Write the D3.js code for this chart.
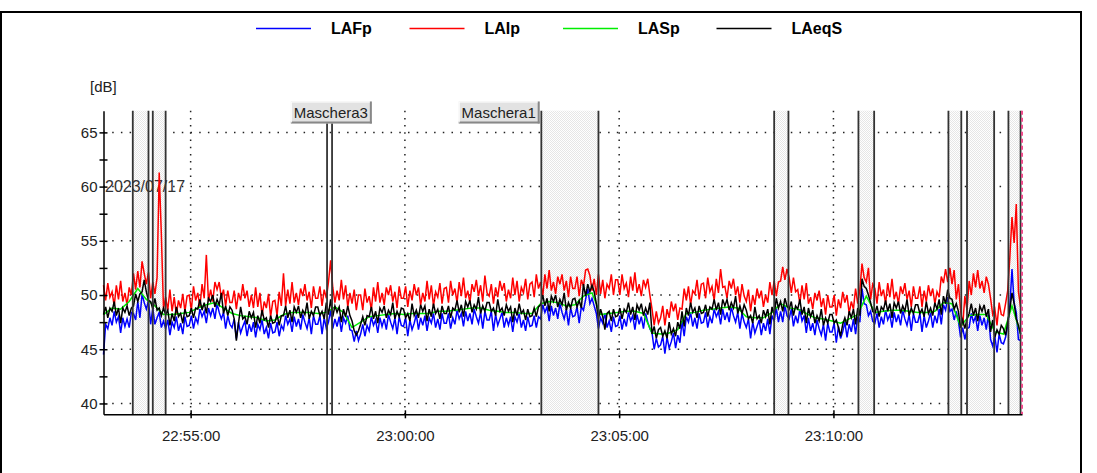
<!DOCTYPE html>
<html lang="it">
<head>
<meta charset="UTF-8">
<title>LAFp LAIp LASp LAeqS</title>
<script src="https://d3js.org/d3.v7.min.js"></script>
<style>
    body {
        margin: 0;
        background: #fff;
        font-family: Arial, "Liberation Sans", sans-serif;
    }
    svg { display: block; }
    .axis path, .axis line { stroke: #000; stroke-width: 1.5; }
    .axis text { font-family: Arial, "Liberation Sans", sans-serif; font-size: 15px; fill: #222; }
    .grid { stroke: #222; stroke-width: 1.5; fill: none; }
    .legend text { font-size: 16px; font-weight: bold; fill: #000; }
    .series { fill: none; stroke-width: 1.5; }
</style>
</head>
<body>
<svg width="1097" height="473"></svg>
<script>
    // time base of the recording
    const startTime = "22:52:58";
    const endTime = "23:14:24";
    const stepSec = 3;       // LAFp, LAIp, LAeqS sampling
    const stepSecSlow = 12;  // LASp sampling

    // LAFp [dB]
    const lafp = [
        44.5, 47.3, 46.9, 47.9, 47.2, 48.5, 47.5, 48.0, 46.5, 47.9, 47.1, 47.8, 47.0, 48.4, 48.3, 47.7, 49.4, 47.9, 50.1, 49.3,
        48.7, 49.5, 47.3, 48.8, 47.3, 47.9, 48.4, 47.0, 47.6, 46.9, 47.7, 46.3, 47.5, 47.0, 48.0, 46.7, 47.4, 46.4, 48.0, 47.1,
        47.2, 48.1, 46.9, 47.9, 47.4, 48.7, 48.0, 48.5, 47.4, 48.8, 48.1, 48.8, 47.8, 49.2, 48.4, 47.8, 48.4, 46.9, 48.1, 47.3,
        47.0, 47.8, 46.0, 47.5, 46.5, 47.1, 47.6, 46.2, 47.3, 46.6, 47.5, 46.1, 47.3, 46.8, 47.7, 46.4, 47.0, 46.0, 47.4, 46.5,
        46.6, 47.5, 46.2, 47.2, 46.8, 48.1, 47.3, 47.8, 46.6, 48.0, 47.1, 47.8, 46.8, 48.2, 47.5, 46.9, 47.9, 46.4, 48.1, 47.3,
        47.3, 48.1, 46.4, 47.9, 46.9, 47.5, 48.6, 46.9, 47.8, 47.1, 48.0, 46.6, 47.9, 47.4, 48.1, 46.8, 46.7, 45.7, 46.7, 45.8,
        46.4, 47.3, 46.2, 47.2, 46.7, 48.0, 47.2, 47.7, 46.5, 47.9, 47.1, 47.8, 46.8, 48.2, 47.5, 46.9, 47.9, 46.4, 48.0, 47.2,
        47.1, 47.9, 46.2, 47.7, 46.8, 47.4, 48.2, 46.8, 47.9, 47.2, 48.1, 46.7, 47.9, 47.4, 48.3, 47.0, 47.8, 46.8, 48.3, 47.4,
        47.4, 48.3, 46.9, 47.9, 47.3, 48.6, 47.8, 48.3, 47.1, 48.5, 47.6, 48.3, 47.3, 48.7, 48.0, 47.4, 48.4, 46.9, 48.5, 47.7,
        47.7, 48.5, 46.7, 48.2, 47.2, 47.8, 48.4, 47.0, 47.9, 47.2, 48.0, 46.6, 48.0, 47.5, 48.3, 47.0, 47.7, 46.7, 48.0, 47.1,
        47.2, 48.1, 47.0, 48.0, 47.8, 49.1, 48.4, 48.9, 47.6, 49.0, 48.1, 48.8, 47.8, 49.2, 48.4, 47.8, 48.7, 47.2, 48.8, 48.0,
        48.1, 48.9, 47.4, 48.9, 48.6, 49.6, 50.6, 49.2, 49.7, 49.0, 48.3, 46.9, 47.9, 47.4, 48.3, 47.0, 47.6, 46.6, 48.0, 47.1,
        47.2, 48.1, 46.8, 47.8, 47.1, 48.4, 47.6, 48.1, 46.8, 48.2, 47.3, 48.0, 46.9, 48.3, 47.5, 46.9, 46.5, 45.0, 46.0, 45.2,
        45.4, 46.2, 44.6, 46.1, 45.1, 45.7, 46.5, 45.1, 46.3, 45.6, 47.6, 46.2, 48.0, 47.5, 48.4, 47.1, 47.9, 46.9, 48.3, 47.4,
        47.5, 48.4, 47.0, 48.0, 47.4, 48.7, 48.0, 48.5, 47.3, 48.7, 47.7, 48.4, 47.5, 48.9, 48.1, 47.5, 48.4, 46.9, 48.3, 47.5,
        47.0, 47.8, 46.0, 47.5, 46.5, 47.1, 47.7, 46.3, 47.4, 46.7, 47.8, 46.4, 48.1, 47.6, 48.8, 47.5, 48.5, 47.5, 49.0, 48.1,
        47.8, 48.7, 47.1, 48.1, 47.4, 48.7, 47.6, 48.1, 46.5, 47.9, 46.7, 47.4, 46.3, 47.7, 46.9, 46.3, 47.3, 45.8, 47.4, 46.6,
        46.6, 47.4, 45.6, 47.1, 46.0, 46.6, 47.5, 46.1, 47.3, 46.6, 47.8, 46.4, 48.0, 47.5, 50.6, 49.2, 49.1, 48.1, 48.5, 47.6,
        47.4, 48.3, 47.0, 48.0, 47.3, 48.6, 47.7, 48.2, 47.0, 48.4, 47.5, 48.2, 47.2, 48.6, 47.8, 47.2, 48.2, 46.7, 48.3, 47.5,
        47.5, 48.3, 46.6, 48.1, 47.0, 47.6, 48.4, 47.0, 48.1, 47.4, 48.7, 47.3, 49.1, 48.6, 49.8, 48.5, 48.7, 47.7, 48.5, 47.6,
        46.1, 47.0, 45.9, 46.9, 47.0, 48.3, 47.5, 48.0, 46.7, 48.1, 47.2, 47.9, 46.8, 48.2, 45.9, 45.3, 46.2, 44.7, 46.4, 45.6,
        45.5, 46.1, 47.2, 49.0, 52.4, 49.3, 48.4, 45.9, 45.8
    ];

    // LAIp [dB]
    const laip = [
        50.9, 49.5, 51.1, 49.8, 50.3, 49.0, 50.9, 49.6, 51.3, 49.4, 50.2, 49.1, 50.7, 50.0, 52.0, 50.5, 52.2, 50.7, 53.1, 52.0,
        51.0, 52.1, 49.7, 51.2, 50.1, 51.6, 61.3, 55.6, 48.7, 49.8, 48.6, 50.5, 48.5, 49.8, 48.2, 49.5, 48.8, 50.1, 48.5, 49.9,
        50.0, 48.6, 50.8, 49.5, 50.2, 48.9, 51.0, 49.7, 53.7, 49.4, 50.5, 49.4, 51.2, 50.5, 51.2, 49.7, 50.5, 49.0, 50.4, 49.3,
        49.3, 50.4, 48.7, 50.2, 49.5, 51.0, 49.7, 50.4, 48.9, 50.0, 48.8, 50.7, 48.9, 50.2, 48.1, 49.4, 48.8, 50.1, 48.0, 49.4,
        49.5, 48.1, 50.3, 49.0, 52.0, 49.0, 50.5, 49.2, 51.2, 49.3, 50.2, 49.1, 50.6, 49.9, 51.0, 49.5, 50.3, 48.8, 50.8, 49.7,
        49.7, 50.8, 49.0, 50.5, 49.7, 51.2, 53.2, 50.7, 49.3, 50.4, 49.5, 51.4, 49.6, 50.9, 48.9, 50.2, 49.2, 50.5, 48.6, 50.0,
        50.0, 48.6, 50.6, 49.3, 49.9, 48.6, 50.7, 49.4, 51.2, 49.3, 50.2, 49.1, 50.7, 50.0, 50.9, 49.4, 50.3, 48.8, 50.8, 49.7,
        49.7, 50.8, 48.9, 50.4, 49.5, 51.0, 50.0, 50.7, 49.1, 50.2, 49.4, 51.3, 49.6, 50.9, 49.0, 50.3, 49.8, 51.1, 49.2, 50.6,
        50.7, 49.3, 51.3, 50.0, 50.6, 49.3, 51.2, 49.9, 51.6, 49.7, 50.4, 49.3, 51.0, 50.3, 51.4, 49.9, 50.9, 49.4, 51.8, 50.2,
        49.9, 51.0, 49.2, 50.7, 49.8, 51.3, 50.4, 51.1, 49.4, 50.5, 49.7, 51.6, 50.0, 51.3, 49.4, 50.7, 50.2, 51.5, 49.6, 51.0,
        51.2, 49.8, 51.9, 50.6, 51.2, 49.9, 51.9, 50.6, 52.3, 50.4, 51.2, 50.1, 51.7, 51.0, 51.9, 50.4, 51.3, 49.8, 51.7, 50.6,
        50.6, 51.7, 49.9, 51.4, 50.8, 52.3, 52.4, 51.8, 50.4, 51.5, 50.0, 51.9, 50.1, 51.4, 49.7, 51.0, 50.6, 51.9, 50.0, 51.4,
        51.4, 50.0, 51.9, 50.6, 51.1, 49.8, 51.7, 50.4, 52.1, 50.2, 51.0, 49.9, 51.4, 50.7, 51.5, 50.0, 48.7, 47.2, 48.5, 47.4,
        47.9, 49.0, 47.2, 48.7, 47.9, 49.4, 48.5, 49.2, 47.7, 48.8, 48.7, 50.6, 49.5, 50.8, 49.1, 50.4, 50.1, 51.4, 49.6, 51.0,
        51.1, 49.7, 51.6, 50.3, 50.8, 49.5, 51.5, 50.2, 52.4, 50.7, 50.8, 49.7, 51.3, 50.6, 51.5, 50.0, 50.8, 49.3, 51.0, 49.9,
        49.4, 50.5, 48.5, 50.0, 49.1, 50.6, 49.7, 50.4, 48.9, 50.0, 49.3, 51.2, 50.0, 51.3, 49.9, 51.2, 51.3, 52.6, 51.4, 52.4,
        51.6, 50.2, 51.6, 50.3, 50.5, 49.2, 50.9, 49.6, 51.1, 49.2, 49.8, 48.7, 50.2, 49.5, 50.4, 48.9, 49.7, 48.2, 50.0, 48.9,
        48.9, 50.0, 48.1, 49.6, 48.8, 50.3, 49.3, 50.0, 48.3, 49.4, 48.7, 50.6, 49.2, 50.5, 52.9, 51.6, 51.2, 52.5, 49.6, 51.0,
        50.6, 49.2, 51.2, 49.9, 50.5, 49.2, 51.1, 49.8, 51.5, 49.6, 50.3, 49.2, 50.8, 50.1, 51.1, 49.6, 50.4, 48.9, 50.8, 49.7,
        49.7, 50.8, 48.9, 50.4, 49.4, 50.9, 49.9, 50.6, 49.2, 50.3, 49.8, 51.7, 51.1, 52.4, 51.2, 52.5, 51.0, 52.3, 49.6, 51.0,
        48.6, 47.2, 49.9, 48.6, 51.3, 50.0, 52.0, 50.7, 52.3, 50.6, 51.3, 50.2, 51.7, 51.0, 49.7, 48.2, 48.7, 47.2, 49.3, 48.2,
        48.1, 49.2, 50.4, 53.5, 57.2, 54.8, 58.4, 50.3, 48.9
    ];

    // LASp [dB], slower sampling
    const lasp = [
        48.2, 48.8, 48.7, 49.4, 50.6, 49.6, 49.0, 48.2, 48.2, 48.3,
        48.4, 48.8, 49.1, 49.3, 48.8, 48.3, 48.1, 48.0, 47.9, 47.6,
        47.7, 48.2, 48.4, 48.4, 48.4, 48.3, 48.4, 48.9, 48.4, 47.0,
        47.5, 48.0, 48.1, 48.2, 48.3, 48.2, 48.3, 48.3, 48.3, 48.5,
        48.5, 48.6, 48.7, 48.8, 48.8, 48.6, 48.5, 48.4, 48.4, 48.3,
        48.3, 49.2, 49.4, 49.3, 49.0, 49.1, 49.9, 50.2, 48.2, 48.3,
        48.4, 48.5, 48.5, 48.3, 46.5, 46.4, 46.5, 46.8, 48.3, 48.4,
        48.6, 48.7, 48.8, 48.9, 48.8, 48.0, 47.9, 47.9, 48.4, 49.2,
        48.8, 48.7, 48.3, 47.9, 47.8, 47.6, 47.4, 47.8, 48.2, 49.9,
        48.4, 48.5, 48.6, 48.6, 48.5, 48.4, 48.4, 48.5, 49.3, 49.2,
        47.1, 48.1, 48.2, 48.2, 46.6, 46.4, 49.0, 46.4
    ];

    // LAeqS [dB]
    const laeqs = [
        48.2, 48.9, 47.9, 48.8, 48.5, 49.4, 48.1, 48.8, 47.4, 48.8, 48.4, 49.0, 48.1, 48.8, 49.0, 50.1, 49.4, 50.1, 50.3, 51.4,
        50.3, 49.5, 49.4, 48.7, 49.7, 48.6, 48.8, 48.1, 48.8, 48.2, 48.6, 47.2, 48.3, 47.6, 48.9, 48.0, 48.3, 47.4, 48.7, 48.0,
        48.1, 48.8, 47.9, 48.8, 48.7, 49.6, 48.6, 49.3, 48.3, 49.7, 49.4, 50.0, 48.9, 49.6, 49.1, 50.2, 48.3, 49.0, 48.1, 48.9,
        48.6, 47.8, 45.8, 47.4, 48.9, 47.8, 48.0, 47.3, 48.5, 47.9, 48.4, 47.0, 48.1, 47.4, 48.6, 47.7, 47.9, 47.0, 48.1, 47.4,
        47.5, 48.2, 47.2, 48.1, 48.1, 49.0, 47.9, 48.6, 47.5, 48.9, 48.4, 49.0, 47.9, 48.6, 48.2, 49.3, 47.8, 48.5, 48.1, 48.9,
        48.9, 48.1, 48.5, 47.8, 49.3, 48.2, 49.6, 48.0, 49.0, 48.4, 48.9, 47.5, 48.7, 48.0, 49.0, 48.1, 47.6, 46.7, 46.3, 46.7,
        47.3, 48.0, 47.2, 48.1, 48.0, 48.9, 47.8, 48.5, 47.4, 48.8, 48.4, 49.0, 47.9, 48.6, 48.2, 49.3, 47.8, 48.5, 48.0, 48.8,
        48.7, 47.9, 48.3, 47.6, 49.2, 48.1, 48.6, 47.9, 49.1, 48.5, 49.0, 47.6, 48.7, 48.0, 49.2, 48.3, 48.7, 47.8, 49.0, 48.3,
        48.3, 49.0, 47.9, 48.8, 48.6, 49.5, 48.4, 49.1, 48.0, 49.4, 48.9, 49.5, 48.4, 49.1, 48.7, 49.8, 48.3, 49.0, 48.5, 49.3,
        49.3, 48.5, 48.8, 48.1, 49.6, 48.5, 48.8, 48.1, 49.1, 48.5, 48.9, 47.5, 48.8, 48.1, 49.2, 48.3, 48.6, 47.7, 48.7, 48.0,
        48.1, 48.8, 48.0, 48.9, 49.1, 50.0, 49.0, 49.7, 48.5, 49.9, 49.4, 50.0, 48.9, 49.6, 49.1, 50.2, 48.6, 49.3, 48.8, 49.6,
        49.7, 48.9, 49.5, 48.8, 51.0, 49.9, 51.0, 50.3, 50.9, 50.3, 49.2, 47.8, 48.7, 48.0, 46.8, 48.3, 48.5, 47.6, 48.7, 48.0,
        48.1, 48.8, 47.8, 48.7, 48.4, 49.3, 48.2, 48.9, 47.7, 49.1, 48.6, 49.2, 48.1, 48.8, 48.2, 49.3, 46.4, 47.1, 46.0, 46.8,
        47.0, 46.2, 46.7, 46.0, 47.5, 46.4, 46.9, 46.2, 47.5, 46.9, 48.5, 47.1, 48.8, 48.1, 49.3, 48.4, 48.8, 47.9, 49.0, 48.3,
        48.4, 49.1, 48.0, 48.9, 48.7, 49.6, 48.6, 49.3, 48.2, 49.6, 49.0, 49.6, 48.6, 49.3, 48.8, 49.9, 48.3, 49.0, 48.3, 49.1,
        48.6, 47.8, 48.1, 47.4, 48.9, 47.8, 48.1, 47.4, 48.6, 48.0, 48.7, 47.3, 48.9, 48.2, 49.7, 48.8, 49.4, 48.5, 49.7, 49.0,
        48.7, 49.4, 48.1, 49.0, 48.7, 49.6, 48.2, 48.9, 47.4, 48.8, 48.0, 48.6, 47.4, 48.1, 47.6, 48.7, 47.2, 47.9, 47.4, 48.2,
        48.2, 47.4, 47.7, 47.0, 46.2, 47.3, 47.9, 47.2, 48.5, 47.9, 48.7, 47.3, 48.8, 48.1, 51.5, 50.8, 50.6, 50.0, 49.3, 48.5,
        48.3, 49.0, 48.0, 48.9, 48.6, 49.5, 48.5, 49.2, 47.9, 49.3, 48.8, 49.4, 48.3, 49.0, 48.5, 49.6, 48.1, 48.8, 48.3, 49.1,
        49.1, 48.3, 48.7, 48.0, 49.4, 48.3, 48.8, 48.1, 49.3, 48.7, 49.6, 48.2, 49.9, 49.2, 50.5, 49.7, 49.6, 48.7, 49.2, 48.5,
        47.0, 47.7, 46.9, 47.8, 48.3, 49.2, 48.1, 48.8, 47.6, 49.0, 48.5, 49.1, 48.0, 48.7, 46.6, 47.7, 46.1, 46.8, 46.4, 47.2,
        46.9, 46.3, 47.5, 48.7, 50.2, 49.2, 47.8, 47.2, 46.4
    ];

    const seriesNames = ["LAFp", "LAIp", "LASp", "LAeqS"];
    const seriesColors = ["#0000ff", "#ff0000", "#00ee00", "#000000"];
    const seriesWidths = [1.5, 1.5, 1.2, 1.5];

    const yTicks = [40, 45, 50, 55, 60, 65];
    const yMinorTicks = [42.5, 47.5, 52.5, 57.5, 62.5];
    const xTickLabels = ["22:55:00", "23:00:00", "23:05:00", "23:10:00"];

    // masks (Maschere)
    const maskStart = ["22:53:39", "22:54:07", "22:58:11", "23:03:11", "23:08:37", "23:10:35", "23:12:41", "23:13:07", "23:14:05"];
    const maskEnd   = ["22:54:01", "22:54:25", "22:58:18", "23:04:31", "23:08:57", "23:10:57", "23:12:59", "23:13:45", "23:14:22"];
    const maskShaded = [true, true, false, true, true, true, true, true, true];
    const maskNames = ["Maschera3", "Maschera1"];
    const maskNameTimes = ["22:58:17", "23:02:12"];

    const dateLabel = "2023/07/17";
    const cursorTime = "23:14:24";

    const parse = d3.timeParse("%H:%M:%S");
    const t0 = parse(startTime), t1 = parse(endTime);

    const svg = d3.select("svg");
    const plotLeft = 103.5, plotRight = 1022, plotTop = 110.7, plotBottom = 414.3;

    const x = d3.scaleTime().domain([t0, t1]).range([plotLeft, plotRight]);
    const y = d3.scaleLinear().domain([39, 67]).range([plotBottom, plotTop]);

    // stipple fill used by the masks
    const defs = svg.append("defs");
    const pat = defs.append("pattern")
        .attr("id", "stipple")
        .attr("width", 2).attr("height", 2)
        .attr("patternUnits", "userSpaceOnUse");
    pat.append("rect").attr("width", 2).attr("height", 2).attr("fill", "#fff");
    pat.append("rect").attr("width", 1).attr("height", 1).attr("fill", "#e6e6e6");
    pat.append("rect").attr("x", 1).attr("y", 1).attr("width", 1).attr("height", 1).attr("fill", "#e6e6e6");

    const shadow = defs.append("pattern")
        .attr("id", "shadow")
        .attr("width", 2).attr("height", 2)
        .attr("patternUnits", "userSpaceOnUse");
    shadow.append("rect").attr("width", 2).attr("height", 2).attr("fill", "#bbb");
    shadow.append("rect").attr("width", 1).attr("height", 1).attr("fill", "#555");
    shadow.append("rect").attr("x", 1).attr("y", 1).attr("width", 1).attr("height", 1).attr("fill", "#555");

    // outer frame
    svg.append("path")
        .attr("d", "M1,480V12H1081V480")
        .attr("fill", "none")
        .attr("stroke", "#000")
        .attr("stroke-width", 2);

    // legend
    const legend = svg.append("g").attr("class", "legend");
    seriesNames.forEach((name, i) => {
        const lx = 256 + i * 153.5;
        legend.append("line")
            .attr("x1", lx).attr("x2", lx + 55)
            .attr("y1", 28.5).attr("y2", 28.5)
            .attr("stroke", seriesColors[i])
            .attr("stroke-width", 1.3);
        legend.append("text")
            .attr("x", lx + 75).attr("y", 28.5)
            .attr("dy", "0.35em")
            .text(name);
    });

    // unit label
    svg.append("text")
        .attr("x", 90).attr("y", 87)
        .attr("dy", "0.35em")
        .style("font-size", "15px")
        .attr("fill", "#222")
        .text("[dB]");

    // grid
    const grid = svg.append("g");
    grid.selectAll("line.h")
        .data(yTicks)
        .enter().append("line")
        .attr("class", "grid")
        .attr("x1", plotLeft).attr("x2", plotRight)
        .attr("y1", d => y(d)).attr("y2", d => y(d))
        .attr("stroke-dasharray", "1.5,7.2");
    grid.selectAll("line.v")
        .data(xTickLabels)
        .enter().append("line")
        .attr("class", "grid")
        .attr("x1", d => x(parse(d))).attr("x2", d => x(parse(d)))
        .attr("y1", plotTop).attr("y2", plotBottom)
        .attr("stroke-dasharray", "1.5,5.7");

    // mask areas
    const masks = maskStart.map((s, i) => ({ s: parse(s), e: parse(maskEnd[i]), shaded: maskShaded[i] }));
    svg.append("g").selectAll("rect")
        .data(masks.filter(d => d.shaded))
        .enter().append("rect")
        .attr("x", d => x(d.s))
        .attr("width", d => x(d.e) - x(d.s))
        .attr("y", plotTop)
        .attr("height", plotBottom - plotTop)
        .attr("fill", "url(#stipple)");

    // date label
    svg.append("text")
        .attr("x", 105).attr("y", y(60))
        .attr("dy", "0.35em")
        .style("font-size", "16px")
        .attr("fill", "#333")
        .text(dateLabel);

    // series
    const series = [
        { values: lafp, step: stepSec },
        { values: laip, step: stepSec },
        { values: lasp, step: stepSecSlow },
        { values: laeqs, step: stepSec }
    ];
    series.forEach((s, k) => {
        const pts = s.values.map((v, i) => [d3.timeSecond.offset(t0, i * s.step), v]);
        const line = d3.line().x(d => x(d[0])).y(d => y(d[1]));
        svg.append("path")
            .datum(pts)
            .attr("class", "series")
            .attr("stroke", seriesColors[k])
            .attr("stroke-width", seriesWidths[k])
            .attr("d", line);
    });

    // mask borders
    const edges = [];
    masks.forEach(d => { edges.push(d.s); edges.push(d.e); });
    svg.append("g").selectAll("line")
        .data(edges)
        .enter().append("line")
        .attr("x1", d => x(d)).attr("x2", d => x(d))
        .attr("y1", plotTop).attr("y2", plotBottom)
        .attr("stroke", "#333")
        .attr("stroke-width", 1.8);

    // cursor
    svg.append("line")
        .attr("x1", x(parse(cursorTime))).attr("x2", x(parse(cursorTime)))
        .attr("y1", plotTop).attr("y2", plotBottom)
        .attr("stroke", "#ee4c8c")
        .attr("stroke-width", 2)
        .attr("stroke-dasharray", "4,3");

    // axes
    const yAxis = svg.append("g")
        .attr("class", "axis")
        .attr("transform", `translate(${plotLeft},0)`)
        .call(d3.axisLeft(y).tickValues(yTicks).tickSize(0).tickSizeOuter(0).tickPadding(6));
    yAxis.selectAll(".tick line").attr("x1", -4).attr("x2", 4);

    const yMinor = svg.append("g")
        .attr("class", "axis")
        .attr("transform", `translate(${plotLeft},0)`)
        .call(d3.axisLeft(y).tickValues(yMinorTicks).tickSize(0).tickSizeOuter(0).tickFormat(""));
    yMinor.select(".domain").remove();
    yMinor.selectAll(".tick line").attr("x1", -4).attr("x2", 4);

    const xAxis = svg.append("g")
        .attr("class", "axis")
        .attr("transform", `translate(0,${plotBottom})`)
        .call(d3.axisBottom(x)
            .tickValues(xTickLabels.map(parse))
            .tickFormat(d3.timeFormat("%H:%M:%S"))
            .tickSize(0).tickSizeOuter(0));
    xAxis.selectAll(".tick line").attr("y1", -4).attr("y2", 4);
    xAxis.selectAll(".tick text").attr("y", 16);

    // mask labels
    const tags = svg.append("g");
    maskNames.forEach((name, i) => {
        const cx = x(parse(maskNameTimes[i]));
        const g = tags.append("g").attr("transform", `translate(${cx - 40.5},101.5)`);
        g.append("rect").attr("width", 81).attr("height", 22).attr("fill", "#e2e2e2");
        g.append("rect").attr("x", 79).attr("y", 0).attr("width", 2).attr("height", 22).attr("fill", "url(#shadow)");
        g.append("rect").attr("x", 0).attr("y", 20).attr("width", 81).attr("height", 2).attr("fill", "url(#shadow)");
        g.append("path").attr("d", "M0.5,21V0.5H79").attr("stroke", "#fff").attr("fill", "none");
        g.append("text")
            .attr("x", 40).attr("y", 11)
            .attr("dy", "0.35em")
            .attr("text-anchor", "middle")
            .style("font-size", "15px")
            .attr("fill", "#222")
            .text(name);
    });
</script>
</body>
</html>
